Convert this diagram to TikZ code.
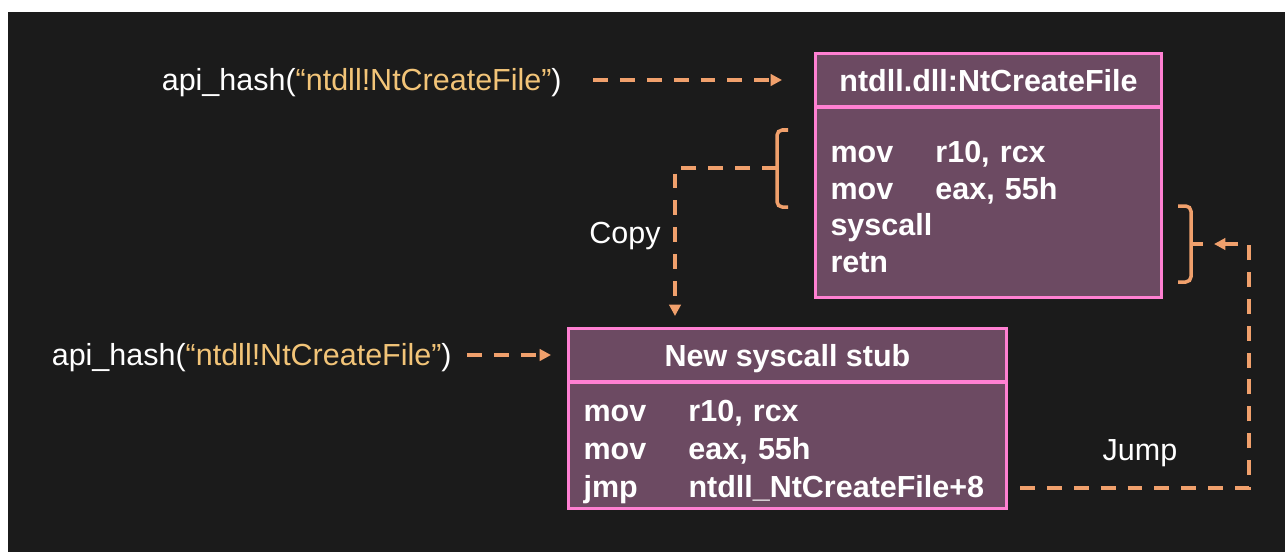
\documentclass[tikz,border=0pt]{standalone}
\usepackage{fontspec}
\setmainfont{Liberation Sans}
\usetikzlibrary{positioning,arrows.meta}
\definecolor{bgdark}{HTML}{1B1B1B}
\definecolor{stubfill}{HTML}{6C4A62}
\definecolor{stubedge}{HTML}{FF80D2}
\definecolor{hookorange}{HTML}{F0A06C}
\definecolor{hashgold}{HTML}{F2C478}

\begin{document}
\begin{tikzpicture}[x=0.02cm,y=-0.02cm,
    txt/.style={font=\fontsize{17.35}{21}\selectfont,text=white,inner sep=0pt},
    head/.style={draw=stubedge,fill=stubfill,line width=1.7pt,text=white,
      font=\fontsize{17.35}{21}\selectfont\bfseries,minimum height=1.06cm,inner sep=0pt,
      text height=12.6pt,text depth=0pt},
    body/.style={draw=stubedge,fill=stubfill,line width=1.7pt,text=white,align=left,
      font=\fontsize{17.35}{21}\selectfont\bfseries,inner xsep=0.3cm,inner ysep=0pt},
    flow/.style={draw=hookorange,line width=2pt,dash pattern=on 8.5pt off 6.8pt,
      -{Triangle[length=6.5pt,width=6.5pt]}},
    brk/.style={draw=hookorange,line width=2pt,rounded corners=3pt}]
    %--- canvas ---
    \fill[white] (0,0) rectangle (1285,552);
    \fill[bgdark] (8,12) rectangle (1285,552);
    %--- original function in ntdll ---
    \node[head,minimum width=6.92cm] (ntfunc) at (988.5,80) {ntdll.dll:NtCreateFile};
    \node[body,below=-1pt of ntfunc,text width=6.32cm,minimum height=3.80cm] (ntbody)
      {\rule{0pt}{17pt}\makebox[2.1cm][l]{mov}r10, rcx\\
       \makebox[2.1cm][l]{mov}eax, 55h\\
       syscall\\
       retn};
    %--- new stub ---
    \node[head,minimum width=8.76cm] (stub) at (787.5,355) {New syscall stub};
    \node[body,below=-1pt of stub,text width=8.16cm,minimum height=2.52cm] (stubbody)
      {\rule{0pt}{19.2pt}\makebox[2.1cm][l]{mov}r10, rcx\\[0.6pt]
       \makebox[2.1cm][l]{mov}eax, 55h\\[0.6pt]
       \makebox[2.1cm][l]{jmp}ntdll\_NtCreateFile+8};
    %--- hash lookups ---
    \node[txt,anchor=east] (hashtop) at (562,83)
      {api\_hash(\textcolor{hashgold}{“ntdll!NtCreateFile”})};
    \node[txt,anchor=east] (hashstub) at (452,358)
      {api\_hash(\textcolor{hashgold}{“ntdll!NtCreateFile”})};
    \draw[flow,shorten <=0.62cm,shorten >=0.64cm] (hashtop.east |- ntfunc.west) -- (ntfunc.west);
    \draw[flow,shorten <=0.3cm,shorten >=0.32cm] (hashstub.east |- stub.west) -- (stub.west);
    %--- copy: first two instructions ---
    \draw[brk] (788,130) -- (777,130) -- (777,207) -- (788,207);
    \coordinate (cpysrc) at (777,168);
    \coordinate (cpydst) at (675,316);
    \draw[flow] (cpysrc) -| (cpydst);
    \node[txt] (cpylbl) at (625,236) {Copy};
    %--- jump back past the stub ---
    \draw[brk] (1178,206) -- (1191,206) -- (1191,282) -- (1178,282);
    \draw[brk] (1191,244) -- (1203,244);
    \coordinate (jmpsrc) at (1020,488);
    \coordinate (jmpdst) at (1214,244);
    \draw[flow] (jmpsrc) -| ([xshift=0.7cm]jmpdst) -- (jmpdst);
    \node[txt] (jmplbl) at (1140,453) {Jump};
  \end{tikzpicture}
\end{document}
